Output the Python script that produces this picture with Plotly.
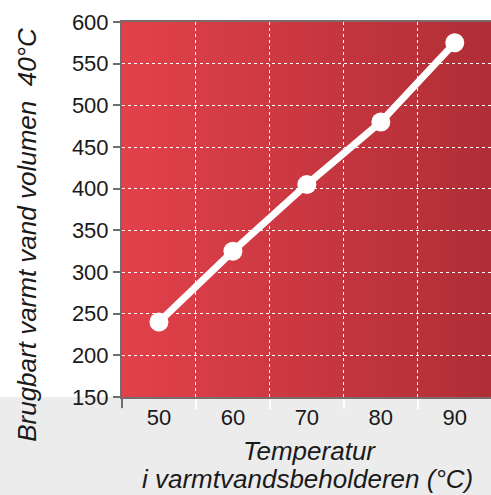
import plotly.graph_objects as go

temps = [50, 60, 70, 80, 90]
volumes = [240, 325, 405, 480, 575]
y_ticks = [150, 200, 250, 300, 350, 400, 450, 500, 550, 600]
y_title = "Brugbart varmt vand volumen  40°C"
x_title_1 = "Temperatur"
x_title_2 = "i varmtvandsbeholderen (°C)"

x0, x1 = 45, 94.9
y0, y1 = 150, 600

fig = go.Figure()
fig.add_trace(go.Scatter(
    x=temps, y=volumes, mode="lines+markers",
    line=dict(color="white", width=7),
    marker=dict(color="white", size=19),
    showlegend=False, hoverinfo="skip"))

shapes = []
n = 60
c0 = (226, 65, 74)
c1 = (176, 46, 54)
for i in range(n):
    t = i / (n - 1)
    col = tuple(round(c0[k] + (c1[k] - c0[k]) * t) for k in range(3))
    shapes.append(dict(type="rect", xref="x domain", yref="y domain",
                       x0=i / n, x1=(i + 1) / n + 0.002, y0=0, y1=1,
                       fillcolor="rgb(%d,%d,%d)" % col, line=dict(width=0),
                       layer="below"))
shapes.append(dict(type="rect", xref="paper", yref="paper", x0=-0.5, x1=1.1,
                   y0=-0.5, y1=0, fillcolor="#ececec", line=dict(width=0),
                   layer="below"))
shapes.append(dict(type="line", xref="x domain", yref="y domain", x0=0, x1=0,
                   y0=0, y1=-0.03, line=dict(color="#6e6e6e", width=2)))

title_font = dict(size=26, family="Liberation Sans, Arial, sans-serif", color="#1a1a1a")

fig.update_layout(
    width=491, height=495,
    margin=dict(l=122, r=0, t=22, b=98),
    paper_bgcolor="white", plot_bgcolor="#d63e47",
    shapes=shapes,
    font=dict(family="Liberation Sans, Arial, sans-serif", color="#1a1a1a", size=22),
    xaxis=dict(range=[x0, x1], tickvals=temps, ticks="", showgrid=False,
               zeroline=False, showline=True, linecolor="#7a6a6a", linewidth=2,
               mirror=True, tickfont=dict(size=22),
               minor=dict(tick0=55, dtick=10, ticks="outside", ticklen=10,
                          tickcolor="white", tickwidth=2, showgrid=True,
                          gridcolor="white", griddash="dot", gridwidth=1.2)),
    yaxis=dict(range=[y0, y1], tickvals=y_ticks, ticks="outside", ticklen=7,
               tickcolor="#6e6e6e", tickwidth=2, showgrid=True,
               gridcolor="white", griddash="dot", gridwidth=1.2,
               zeroline=False, showline=True, linecolor="#6e6e6e", linewidth=2,
               tickfont=dict(size=22)),
    annotations=[
        dict(text="<i>" + y_title + "</i>", xref="paper", yref="paper",
             x=-0.258, y=0.432, showarrow=False, textangle=-90,
             font=title_font, xanchor="center", yanchor="middle"),
        dict(text="<i>" + x_title_1 + "</i>", xref="paper", yref="paper",
             x=0.509, y=-0.144, showarrow=False, xanchor="center", yanchor="middle",
             font=title_font),
        dict(text="<i>" + x_title_2 + "</i>", xref="paper", yref="paper",
             x=0.504, y=-0.218, showarrow=False, xanchor="center", yanchor="middle",
             font=title_font),
    ],
)

fig.write_html("out.html", config={"displayModeBar": False},
               post_script="document.body.style.margin='0';document.body.style.overflow='hidden';")
